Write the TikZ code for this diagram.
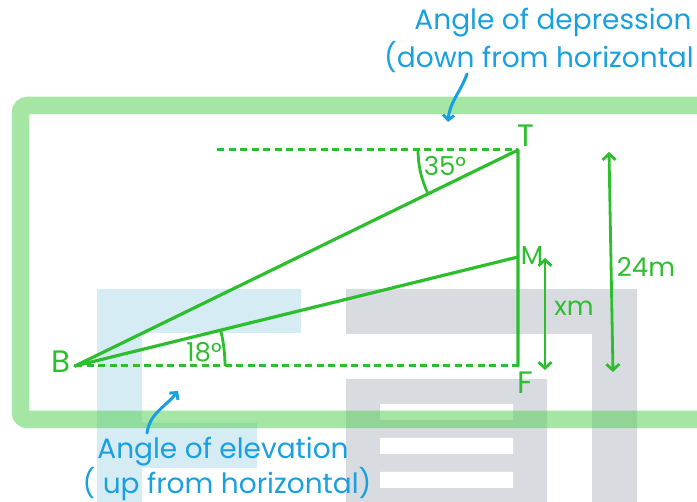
\documentclass[tikz,border=0pt]{standalone}
\usepackage{fontspec}
\setmainfont{Poppins}
\usetikzlibrary{arrows.meta}
\definecolor{framegreen}{RGB}{75,205,75}
\definecolor{linegreen}{RGB}{45,190,45}
\definecolor{noteblue}{RGB}{25,160,225}
\definecolor{markblue}{RGB}{214,236,245}
\definecolor{markgrey}{RGB}{216,220,225}
\begin{document}
\begin{tikzpicture}[x=1pt, y=-1pt,
  side/.style={linegreen, line width=3.2pt, line cap=round, line join=round},
  level/.style={linegreen, line width=3pt, dash pattern=on 7pt off 4.5pt},
  dimline/.style={linegreen, line width=2.8pt, {Straight Barb[length=6pt,width=13pt]}-{Straight Barb[length=6pt,width=13pt]}},
  angmark/.style={linegreen, line width=2.8pt},
  vlabel/.style={text=linegreen, font=\fontsize{31}{33}\selectfont, inner sep=0pt},
  mlabel/.style={text=linegreen, font=\fontsize{26}{28}\selectfont, inner sep=0pt},
  note/.style={text=noteblue, font=\fontsize{28}{30}\selectfont, inner sep=0pt},
  pointer/.style={noteblue, line width=3pt, line cap=round, -{Straight Barb[length=5pt,width=11pt]}}]
  \useasboundingbox (0,0) rectangle (697,502);
  \clip (0,0) rectangle (697,502);
  % faint logo behind the drawing
  \fill[markblue] (97,289) rectangle (301,333) (97,333) rectangle (142,502) (142,423) rectangle (257,468);
  \fill[markgrey] (346,289) rectangle (637,334) (592,334) rectangle (637,502) (346,379) rectangle (547,502);
  \fill[white] (380,404) rectangle (513,420) (380,438) rectangle (513,454) (380,472) rectangle (513,488);
  \draw[framegreen, opacity=.5, line width=17.5pt, rounded corners=7pt] (20.5,105.5) rectangle (706,419.5);
  % triangle
  \coordinate (B) at (75,366);
  \coordinate (F) at (518,366);
  \coordinate (M) at (518,257);
  \coordinate (T) at (518,150);
  \coordinate (H) at (217,150);
  \draw[level] (B) -- (F);
  \draw[level] (H) -- (T);
  \draw[side] (B) -- (T) -- (F);
  \draw[side] (B) -- (M);
  \draw[angmark] ([xshift=-100pt]T) arc[start angle=180, end angle=154, radius=100];
  \draw[angmark] ([xshift=150pt]B) arc[start angle=0, end angle=-13.8, radius=150];
  \node[vlabel] (lB) at (61,362) {B};
  \node[vlabel] (lT) at (526,136) {T};
  \node[mlabel] (lM) at (532,256) {M};
  \node[vlabel] (lF) at (525,383) {F};
  \node[mlabel] (a35) at (445,166) {35°};
  \node[mlabel] (a18) at (204,352) {18°};
  % heights
  \coordinate (xtop) at (545,258);
  \coordinate (xbot) at (545,370);
  \coordinate (htop) at (609,152);
  \coordinate (hbot) at (613,372);
  \draw[dimline] (xtop) -- (xbot);
  \draw[dimline] (htop) -- (hbot);
  \node[mlabel] (xm) at (574,308) {xm};
  \node[mlabel] (hm) at (646,267) {24m};
  % notes
  \node[note] (dep1) at (553,23) {Angle of depression};
  \node[note] (dep2) at (539,57) {(down from horizontal};
  \node[note] (ele1) at (223,452) {Angle of elevation};
  \node[note] (ele2) at (227,484) {( up from horizontal)};
  \coordinate (depfrom) at (467,74);
  \coordinate (depto) at (448,122);
  \coordinate (elefrom) at (147,433);
  \coordinate (eleto) at (178,391);
  \draw[pointer] (depfrom) to[out=250, in=85] (depto);
  \draw[pointer] (elefrom) to[out=82, in=232] (eleto);
\end{tikzpicture}
\end{document}
